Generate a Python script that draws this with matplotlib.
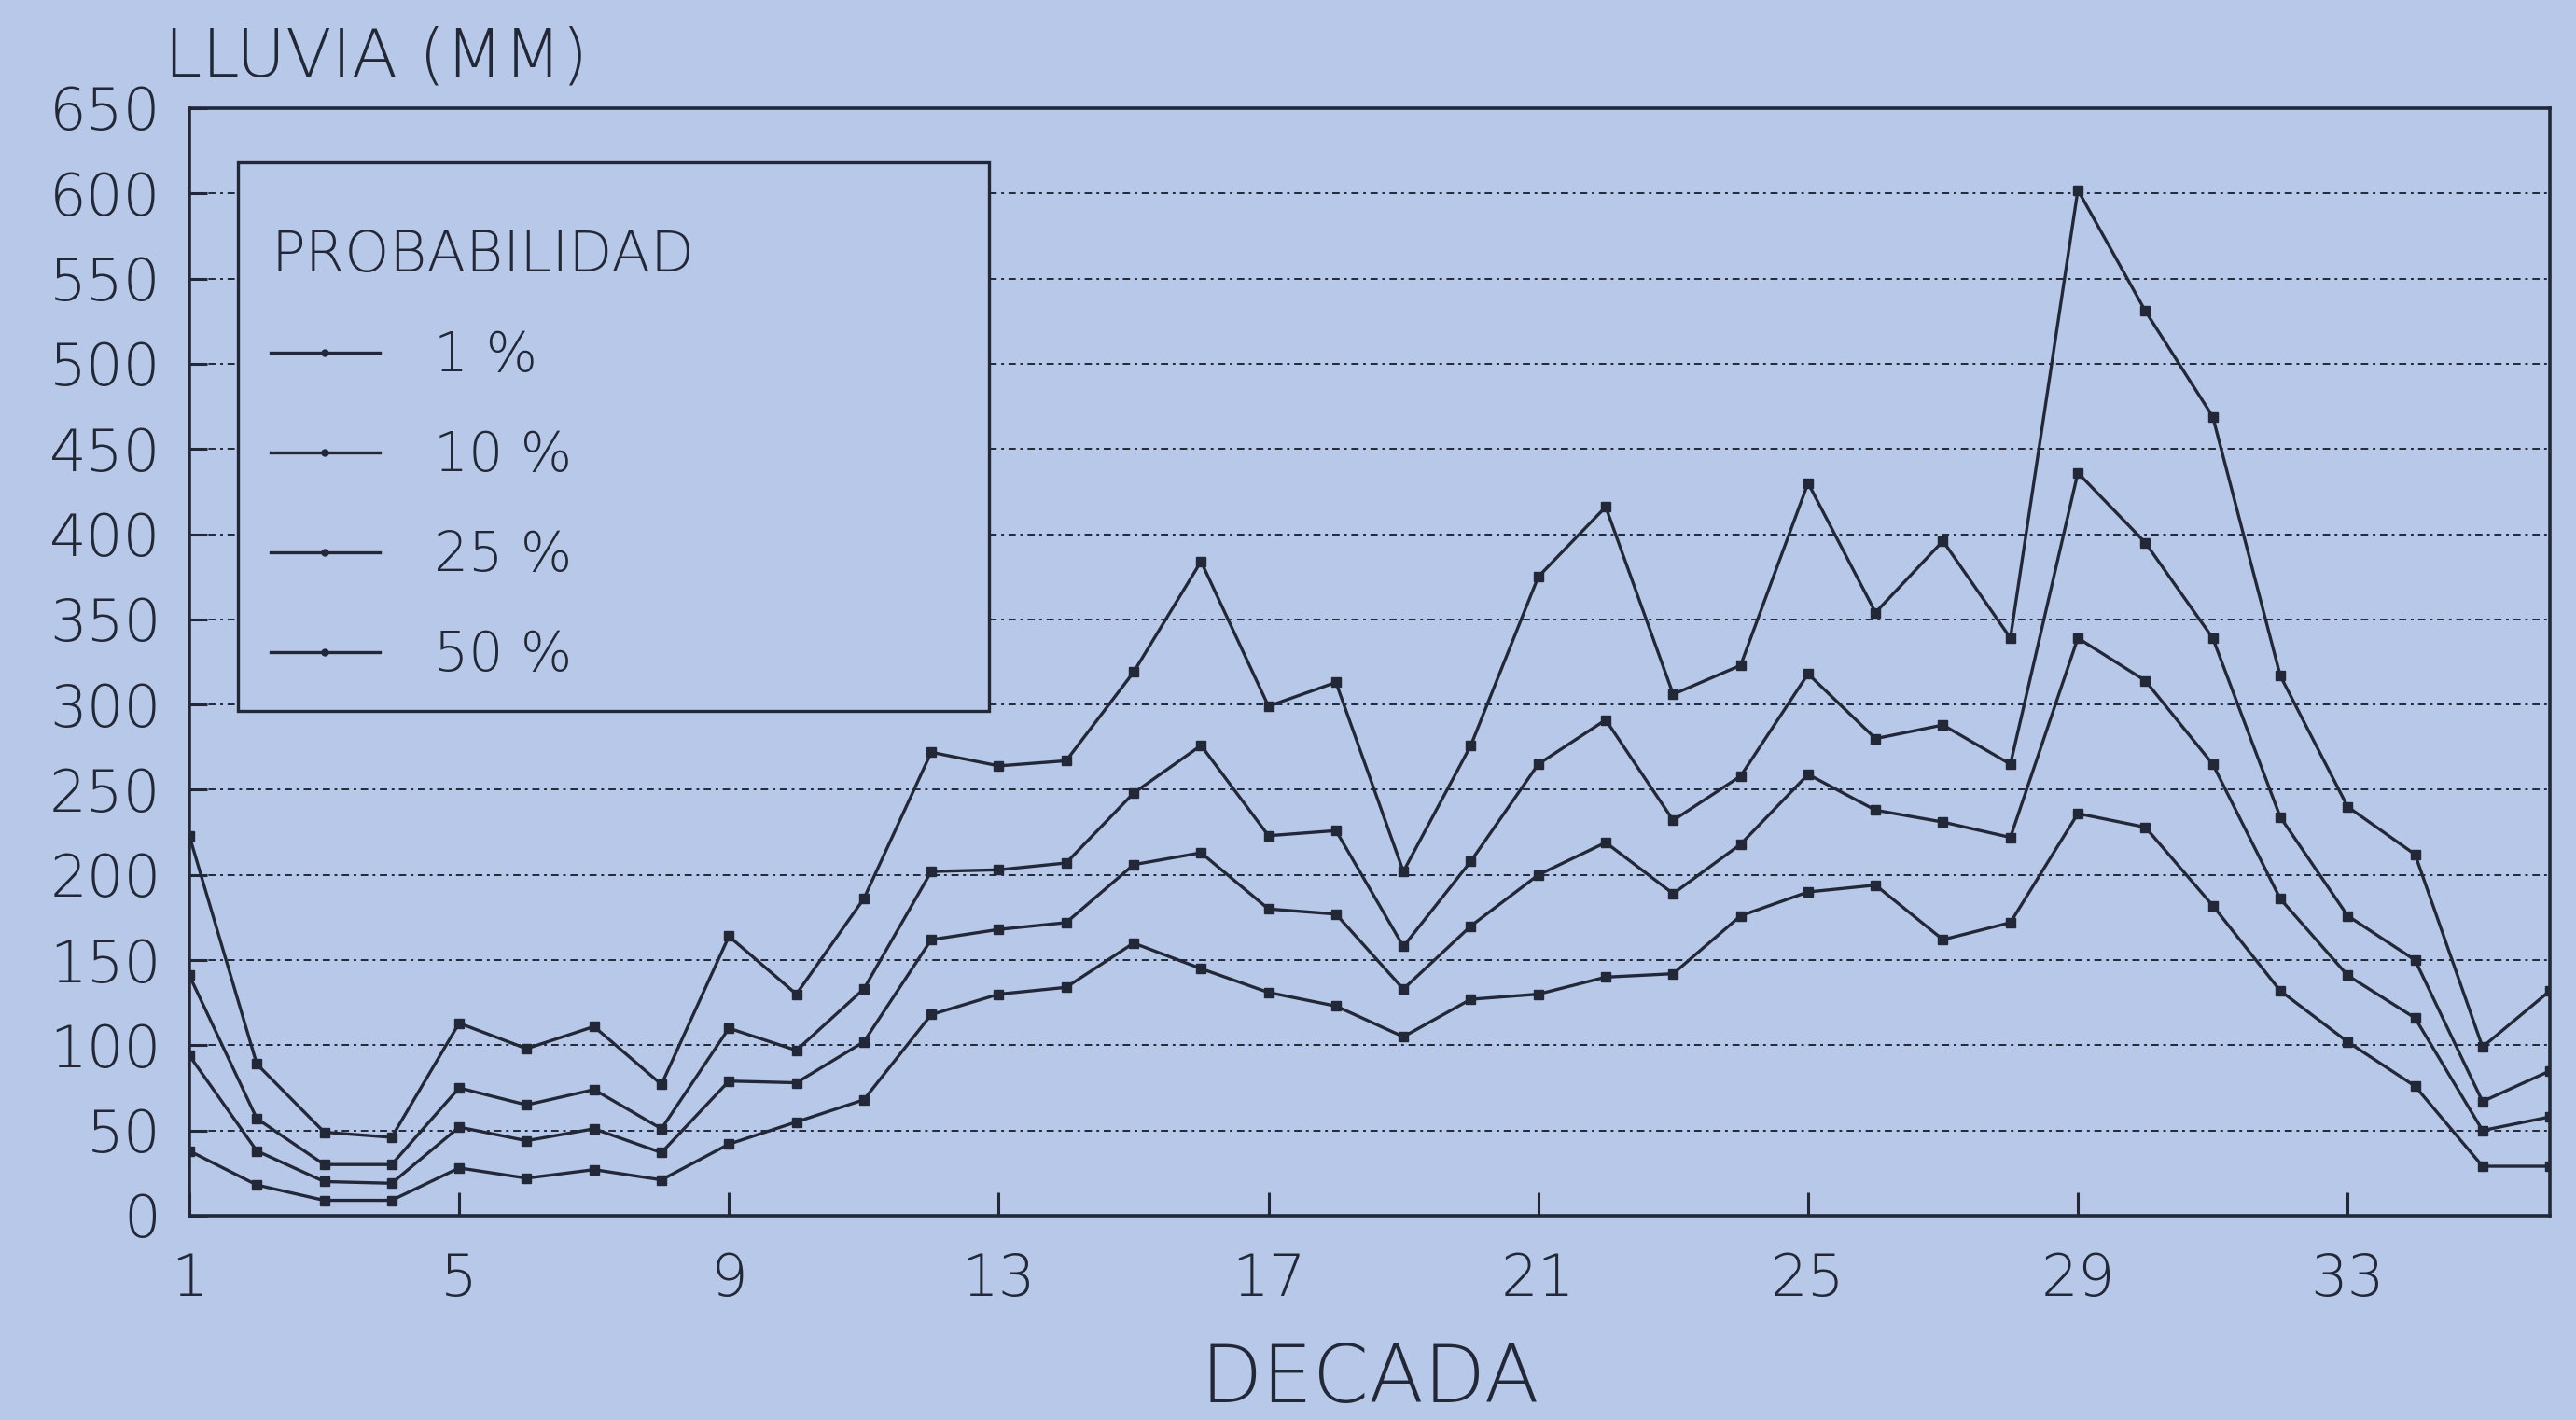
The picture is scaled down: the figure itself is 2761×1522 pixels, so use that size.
import matplotlib
matplotlib.use('Agg')
import matplotlib.pyplot as plt
from matplotlib.patches import Rectangle
from matplotlib.lines import Line2D

# ---- data ----
decadas = list(range(1, 37))
p01 = [223, 89, 49, 46, 113, 98, 111, 77, 164, 130, 186, 272, 264, 267, 319, 384, 299, 313,
       202, 276, 375, 416, 306, 323, 430, 354, 396, 339, 602, 531, 469, 317, 240, 212, 99, 132]
p10 = [141, 57, 30, 30, 75, 65, 74, 51, 110, 97, 133, 202, 203, 207, 248, 276, 223, 226,
       158, 208, 265, 291, 232, 258, 318, 280, 288, 265, 436, 395, 339, 234, 176, 150, 67, 85]
p25 = [94, 38, 20, 19, 52, 44, 51, 37, 79, 78, 102, 162, 168, 172, 206, 213, 180, 177,
       133, 170, 200, 219, 189, 218, 259, 238, 231, 222, 339, 314, 265, 186, 141, 116, 50, 58]
p50 = [38, 18, 9, 9, 28, 22, 27, 21, 42, 55, 68, 118, 130, 134, 160, 145, 131, 123,
       105, 127, 130, 140, 142, 176, 190, 194, 162, 172, 236, 228, 182, 132, 102, 76, 29, 29]
series = [p01, p10, p25, p50]
etiquetas = ['1 %', '10 %', '25 %', '50 %']
xticks = [1, 5, 9, 13, 17, 21, 25, 29, 33]
yticks = list(range(0, 651, 50))

BG = '#b8c8e8'
INK = '#222838'

plt.rcParams['font.family'] = ['DejaVu Sans']
plt.rcParams['font.weight'] = 'light'
plt.rcParams['text.color'] = INK

fig = plt.figure(figsize=(27.61, 15.22), dpi=100, facecolor=BG)
ax = fig.add_axes([0.0735, 0.1439, 0.9164, 0.7799])
ax.set_facecolor(BG)
ax.set_xlim(1, 36)
ax.set_ylim(0, 650)

ax.set_xticks(xticks)
ax.set_yticks(yticks)
ax.tick_params(axis='both', direction='in', colors=INK, labelcolor=INK,
               labelsize=45, width=2.2)
ax.tick_params(axis='y', length=14, pad=22)
ax.tick_params(axis='x', length=18, pad=28)
for lab in ax.get_xticklabels() + ax.get_yticklabels():
    lab.set_fontweight('light')
for s in ax.spines.values():
    s.set_color(INK)
    s.set_linewidth(2.6)

ax.yaxis.grid(True, color=INK, linewidth=1.4, linestyle=(0, (4, 2.5, 1.5, 2.5)), zorder=1)
ax.set_axisbelow(True)

for vals in series:
    ax.plot(decadas, vals, color=INK, lw=2.4, marker='s', markersize=7,
            markerfacecolor=INK, markeredgecolor=INK, zorder=3)

# legend box covering the grid
ax.add_patch(Rectangle((0.0206, 0.456), 0.318, 0.495, transform=ax.transAxes,
                       facecolor=BG, edgecolor=INK, linewidth=2.4, zorder=4))
handles = [Line2D([], [], color=INK, lw=2.4, marker='o', markersize=5) for _ in series]
leg = ax.legend(handles, etiquetas, title='PROBABILIDAD', loc='upper left',
                bbox_to_anchor=(0.0174, 0.928), frameon=False, fontsize=42,
                title_fontsize=44, alignment='left', handlelength=2.0,
                handletextpad=1.0, labelspacing=0.85, numpoints=1,
                borderaxespad=0, borderpad=0.74)
leg.set_zorder(5)
for t in leg.get_texts():
    t.set_color(INK)
    t.set_fontweight('light')
leg.get_title().set_color(INK)
leg.get_title().set_fontweight('light')

ax.set_xlabel('DECADA', fontsize=62, color=INK, labelpad=26, fontweight='light')
fig.text(0.0638, 0.9595, 'LLUVIA (MM)', fontsize=52, color=INK, ha='left', va='center',
         fontweight='light')

fig.savefig('out.png', dpi=100, facecolor=BG)
